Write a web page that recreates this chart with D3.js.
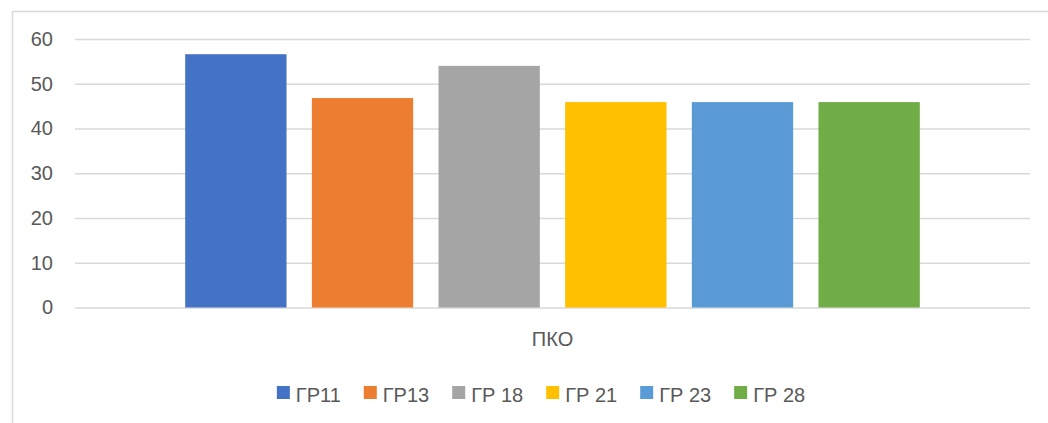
<!DOCTYPE html>
<html>
<head>
<meta charset="utf-8">
<script src="https://cdn.jsdelivr.net/npm/d3@7"></script>
<style>
  html, body { margin: 0; padding: 0; background: #fff; }
  svg { display: block; }
  text { font-family: "Liberation Sans", Arial, sans-serif; fill: #595959; }
</style>
</head>
<body>
<svg id="chart" width="1048" height="423"></svg>
<script>
const categories = ["ПКО"];
const seriesNames = ["ГР11", "ГР13", "ГР 18", "ГР 21", "ГР 23", "ГР 28"];
const seriesValues = [56.6, 46.8, 54, 45.9, 45.9, 45.9];
const seriesColors = ["#4472C4", "#ED7D31", "#A5A5A5", "#FFC000", "#5B9BD5", "#70AD47"];
const yTicks = [0, 10, 20, 30, 40, 50, 60];

const svg = d3.select("#chart");
const W = 1048, H = 423;
const plot = { left: 75, right: 1030, top: 39, bottom: 307.5 };

// chart area border (top & left visible, rest cropped)
svg.append("rect")
  .attr("x", 12.5).attr("y", 11.5)
  .attr("width", W + 20).attr("height", H + 20)
  .attr("fill", "none").attr("stroke", "#d9d9d9").attr("stroke-width", 1.5);

const y = d3.scaleLinear().domain([0, 60]).range([plot.bottom, plot.top]);
const x0 = d3.scaleBand().domain(categories).range([plot.left, plot.right])
  .paddingInner(0).paddingOuter(0.15);
const x1 = d3.scaleBand().domain(seriesNames).range([0, x0.bandwidth()])
  .paddingInner(0.2).paddingOuter(0);

// gridlines
const yAxis = d3.axisLeft(y).tickValues(yTicks).tickSize(-(plot.right - plot.left)).tickPadding(22);
const gy = svg.append("g").attr("transform", `translate(${plot.left},0)`).call(yAxis);
gy.select(".domain").remove();
gy.selectAll(".tick line").attr("stroke", "#d9d9d9").attr("stroke-width", 1.6);
gy.selectAll(".tick text").attr("font-size", 20).attr("fill", "#595959")
  .style("font-family", "'Liberation Sans', Arial, sans-serif");

// bars
const data = seriesNames.map((s, i) => ({ name: s, value: seriesValues[i], color: seriesColors[i] }));
const g = svg.append("g").attr("transform", `translate(${x0(categories[0])},0)`);
g.selectAll("rect").data(data).enter().append("rect")
  .attr("x", d => x1(d.name))
  .attr("y", d => y(d.value))
  .attr("width", x1.bandwidth())
  .attr("height", d => y(0) - y(d.value))
  .attr("fill", d => d.color);

// category axis label
const xAxis = d3.axisBottom(x0).tickSize(0).tickPadding(24);
const gx = svg.append("g").attr("transform", `translate(0,${plot.bottom})`).call(xAxis);
gx.select(".domain").remove();
gx.selectAll(".tick text").attr("font-size", 20).attr("fill", "#595959")
  .style("font-family", "'Liberation Sans', Arial, sans-serif");

// legend
const legend = svg.append("g");
const sq = 13, textGap = 6, itemGap = 23;
let items = legend.selectAll("g").data(data).enter().append("g");
items.append("rect").attr("width", sq).attr("height", sq).attr("y", 386).attr("fill", d => d.color);
items.append("text").attr("x", sq + textGap).attr("y", 401.5).attr("font-size", 20).text(d => d.name);
let widths = [];
items.each(function () {
  widths.push(sq + textGap + d3.select(this).select("text").node().getComputedTextLength());
});
const total = d3.sum(widths) + itemGap * (widths.length - 1);
let cx = (plot.left + plot.right) / 2 - 11.5 - total / 2;
items.attr("transform", (d, i) => {
  const t = `translate(${cx},0)`;
  cx += widths[i] + itemGap;
  return t;
});
</script>
</body>
</html>
